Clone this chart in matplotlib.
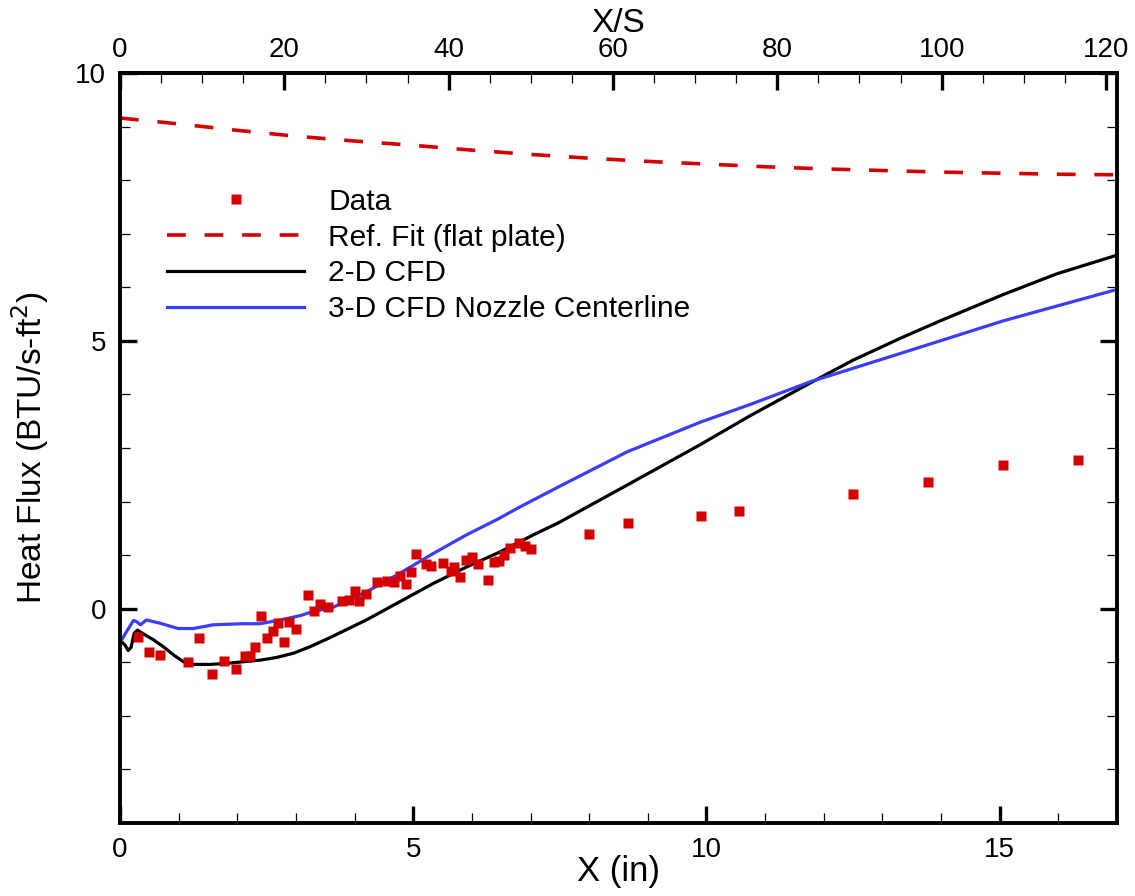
import matplotlib
matplotlib.use("Agg")
import matplotlib.pyplot as plt
from matplotlib.ticker import MultipleLocator, FixedLocator

plt.rcParams['font.family'] = ['Liberation Sans', 'DejaVu Sans']

# ---- data ----
data_x = [0.31, 0.49, 0.69, 1.16, 1.35, 1.57, 1.77, 1.97, 2.13, 2.22, 2.31, 2.40,
          2.50, 2.61, 2.70, 2.80, 2.89, 3.00, 3.21, 3.30, 3.41, 3.55, 3.79, 3.90,
          4.00, 4.07, 4.20, 4.39, 4.56, 4.68, 4.77, 4.88, 4.97, 5.05, 5.22, 5.31,
          5.51, 5.64, 5.70, 5.80, 5.90, 6.00, 6.10, 6.28, 6.38, 6.46, 6.55, 6.65,
          6.80, 6.90, 7.00, 8.00, 8.66, 9.90, 10.55, 12.49, 13.78, 15.06, 16.34]
data_y = [-0.52, -0.81, -0.86, -1.00, -0.55, -1.22, -0.98, -1.12, -0.88, -0.88, -0.72, -0.13,
          -0.54, -0.41, -0.26, -0.63, -0.25, -0.38, 0.25, -0.04, 0.09, 0.04, 0.14, 0.16,
          0.34, 0.14, 0.27, 0.49, 0.52, 0.49, 0.61, 0.46, 0.68, 1.02, 0.84, 0.80,
          0.86, 0.70, 0.77, 0.60, 0.91, 0.97, 0.83, 0.54, 0.88, 0.90, 1.01, 1.14,
          1.23, 1.17, 1.12, 1.39, 1.60, 1.73, 1.82, 2.15, 2.36, 2.69, 2.78]

ref_x = [0, 1, 2, 3, 4, 5, 6, 7, 8, 9, 10, 11, 12, 13, 14, 15, 16, 17]
ref_y = [9.16, 9.05, 8.93, 8.82, 8.73, 8.65, 8.56, 8.48, 8.41, 8.35, 8.30, 8.25,
         8.21, 8.18, 8.15, 8.13, 8.11, 8.10]

cfd2d_x = [0.00, 0.03, 0.085, 0.14, 0.19, 0.24, 0.30, 0.40, 0.57, 0.74, 0.91, 1.08,
           1.25, 1.53, 1.82, 2.10, 2.39, 2.67, 2.96, 3.24, 3.58, 4.20, 4.77, 5.34,
           5.91, 6.48, 7.05, 7.47, 8.65, 9.89, 10.74, 11.78, 12.50, 13.35, 14.00,
           15.05, 15.97, 17.00]
cfd2d_y = [-0.55, -0.62, -0.68, -0.78, -0.72, -0.46, -0.40, -0.47, -0.58, -0.71, -0.86, -0.99,
           -1.04, -1.04, -1.02, -0.99, -0.96, -0.91, -0.83, -0.71, -0.54, -0.21, 0.13, 0.47,
           0.78, 1.06, 1.38, 1.60, 2.31, 3.06, 3.60, 4.22, 4.64, 5.07, 5.38,
           5.86, 6.25, 6.60]

cfd3d_x = [0.00, 0.03, 0.11, 0.23, 0.28, 0.35, 0.45, 0.68, 0.99, 1.25, 1.59, 2.10,
           2.39, 2.78, 3.07, 3.24, 3.64, 4.21, 4.77, 5.34, 5.91, 6.42, 6.82, 7.47,
           8.65, 9.89, 10.74, 11.78, 13.35, 15.05, 17.00]
cfd3d_y = [-0.62, -0.58, -0.43, -0.22, -0.24, -0.30, -0.21, -0.27, -0.37, -0.37, -0.30, -0.28,
           -0.28, -0.20, -0.13, -0.07, 0.03, 0.32, 0.66, 1.03, 1.38, 1.66, 1.90, 2.27,
           2.93, 3.48, 3.81, 4.24, 4.78, 5.37, 5.96]

xs_ticks = [0, 20, 40, 60, 80, 100, 120]
S = 0.1401  # inches per X/S unit

RED = '#d40000'
BLUE = '#3c3cff'

fig = plt.figure(figsize=(11.35, 8.96), dpi=100)
ax = fig.add_axes([120 / 1135, 1 - 823 / 896, 997 / 1135, 750 / 896])

ax.plot(data_x, data_y, 's', color=RED, ms=6.5, mec='none', label='Data', zorder=3)
ax.plot(ref_x, ref_y, color=RED, lw=2.6, dashes=(5.2, 5.2), dash_capstyle='butt',
        label='Ref. Fit (flat plate)')
ax.plot(cfd2d_x, cfd2d_y, color='black', lw=2.3, label='2-D CFD')
ax.plot(cfd3d_x, cfd3d_y, color=BLUE, lw=2.3, label='3-D CFD Nozzle Centerline')

ax.set_xlim(0, 17)
ax.set_ylim(-4, 10)

for sp in ax.spines.values():
    sp.set_linewidth(2.8)

ax.xaxis.set_major_locator(MultipleLocator(5))
ax.xaxis.set_minor_locator(MultipleLocator(1))
ax.yaxis.set_major_locator(MultipleLocator(5))
ax.yaxis.set_minor_locator(MultipleLocator(1))
ax.tick_params(which='both', direction='in', right=True, top=False, labelsize=20)
ax.tick_params(which='major', length=12, width=2.4, pad=10)
ax.tick_params(which='minor', length=7, width=0.9)

ax.set_xlabel('X (in)', fontsize=25)
ax.xaxis.set_label_coords(0.5, -0.043)
ax.set_ylabel('Heat Flux (BTU/s-ft$^2$)', fontsize=24)
ax.yaxis.set_label_coords(-0.069, 0.5)

sec = ax.secondary_xaxis('top', functions=(lambda x: x / S, lambda s: s * S))
sec.xaxis.set_major_locator(FixedLocator(xs_ticks))
sec.xaxis.set_minor_locator(MultipleLocator(5))
sec.tick_params(which='both', direction='in', labelsize=20)
sec.tick_params(which='major', length=12, width=2.4, pad=7)
sec.tick_params(which='minor', length=7, width=0.9)
sec.spines['top'].set_linewidth(2.8)
sec.set_xlabel('X/S', fontsize=24, labelpad=3.5)

leg = ax.legend(loc='upper left', bbox_to_anchor=(0.047, 0.847), frameon=False,
                fontsize=21.5, handlelength=4.6, handletextpad=0.8, labelspacing=0.26,
                borderpad=0, borderaxespad=0, numpoints=1)

fig.savefig('out.png', dpi=100)
